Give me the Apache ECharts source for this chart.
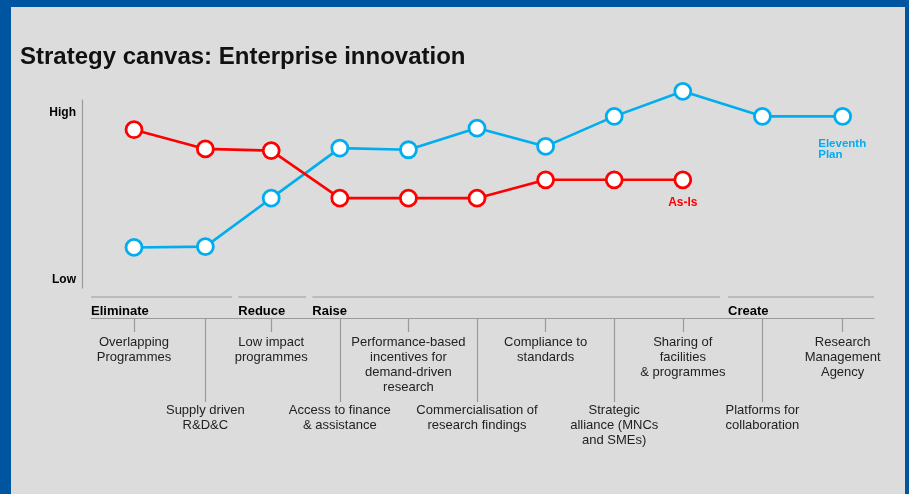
<!DOCTYPE html>
<html>
<head>
<meta charset="utf-8">
<script src="https://cdn.jsdelivr.net/npm/echarts@6/dist/echarts.min.js"></script>
<style>
  html, body { margin: 0; padding: 0; }
  body { width: 909px; height: 494px; background: #0055a0; overflow: hidden; }
  #panel { position: absolute; left: 11px; top: 7px; width: 894px; height: 487px; background: #dcdcdc; }
  #chart { position: absolute; left: 0; top: 0; width: 909px; height: 494px; }
</style>
</head>
<body>
<div id="panel"></div>
<div id="chart"></div>
<script>
// factors (x positions read from the canvas, in category units)
var categories = [
  "Overlapping\nProgrammes",
  "Supply driven\nR&D&C",
  "Low impact\nprogrammes",
  "Access to finance\n& assistance",
  "Performance-based\nincentives for\ndemand-driven\nresearch",
  "Commercialisation of\nresearch findings",
  "Compliance to\nstandards",
  "Strategic\nalliance (MNCs\nand SMEs)",
  "Sharing of\nfacilities\n& programmes",
  "Platforms for\ncollaboration",
  "Research\nManagement\nAgency"
];
var positions = [0, 1.04, 2, 3, 4, 5, 6, 7, 8, 9.16, 10.33];

// offering level, Low = 0, High = 10
var asIs = [9.0, 7.85, 7.75, 4.9, 4.9, 4.9, 6.0, 6.0, 6.0];
var eleventhPlan = [1.95, 2.0, 4.9, 7.9, 7.8, 9.1, 8.0, 9.8, 11.3, 9.8, 9.8];

// ERRC groups: name, start, end (category units)
var groupNames = ["Eliminate", "Reduce", "Raise", "Create"];
var groupStart = [-0.627, 1.52, 2.6, 8.66];
var groupEnd = [1.43, 2.51, 8.54, 10.787];

var yTicks = [0, 10];
var yTickNames = ["Low", "High"];

var FONT = "Liberation Sans, Arial, sans-serif";
var RED = "#ff0000";
var BLUE = "#00adef";
var GREY = "#9a9a9a";

function pairs(vals) {
  return vals.map(function (v, i) { return [positions[i], v]; });
}
function catLabel(v) {
  for (var i = 0; i < positions.length; i++) {
    if (Math.abs(positions[i] - v) < 0.01) return categories[i];
  }
  return "";
}
var upper = positions.filter(function (p, i) { return i % 2 === 0; });
var lower = positions.filter(function (p, i) { return i % 2 === 1; });

var chart = echarts.init(document.getElementById("chart"));

var option = {
  animation: false,
  title: {
    text: "Strategy canvas: Enterprise innovation",
    left: 20,
    top: 45,
    padding: 0,
    textStyle: { fontFamily: FONT, fontSize: 24, fontWeight: "bold", color: "#111" }
  },
  grid: { left: 91, right: 35, top: 100, bottom: 206 },
  xAxis: [
    {
      type: "value",
      min: -0.627,
      max: 10.787,
      position: "bottom",
      offset: 30,
      splitLine: { show: false },
      axisLine: { show: true, onZero: false, lineStyle: { color: GREY, width: 1.2 } },
      axisTick: { show: true, customValues: upper, length: 14, lineStyle: { color: GREY, width: 1.2 } },
      axisLabel: {
        customValues: upper,
        margin: 17,
        formatter: catLabel,
        fontFamily: FONT,
        fontSize: 13,
        lineHeight: 15,
        color: "#222",
        align: "center"
      }
    },
    {
      type: "value",
      min: -0.627,
      max: 10.787,
      position: "bottom",
      offset: 30,
      splitLine: { show: false },
      axisLine: { show: false, onZero: false },
      axisTick: { show: true, customValues: lower, length: 84, lineStyle: { color: GREY, width: 1.2 } },
      axisLabel: {
        customValues: lower,
        margin: 85,
        formatter: catLabel,
        fontFamily: FONT,
        fontSize: 13,
        lineHeight: 15,
        color: "#222",
        align: "center"
      }
    }
  ],
  yAxis: {
    type: "value",
    min: -0.48,
    max: 10.78,
    offset: 9,
    splitLine: { show: false },
    axisLine: { show: true, onZero: false, lineStyle: { color: GREY, width: 1.2 } },
    axisTick: { show: false },
    axisLabel: {
      customValues: yTicks,
      margin: 6,
      formatter: function (v) { return yTickNames[yTicks.indexOf(v)]; },
      fontFamily: FONT,
      fontSize: 12,
      fontWeight: "bold",
      color: "#000"
    }
  },
  series: [
    {
      name: "Eleventh Plan",
      type: "line",
      data: pairs(eleventhPlan),
      clip: false,
      z: 2,
      symbol: "circle",
      symbolSize: 16,
      lineStyle: { color: BLUE, width: 2.6 },
      itemStyle: { color: "#fff", borderColor: BLUE, borderWidth: 2.8 },
      label: {
        show: true,
        position: [-15, 31],
        formatter: function (p) {
          return p.dataIndex === eleventhPlan.length - 1 ? "Eleventh\nPlan" : "";
        },
        align: "left",
        verticalAlign: "top",
        fontFamily: FONT,
        fontSize: 11.5,
        lineHeight: 11,
        fontWeight: "bold",
        color: BLUE
      }
    },
    {
      name: "As-Is",
      type: "line",
      data: pairs(asIs),
      clip: false,
      z: 3,
      symbol: "circle",
      symbolSize: 16,
      lineStyle: { color: RED, width: 2.6 },
      itemStyle: { color: "#fff", borderColor: RED, borderWidth: 2.8 },
      label: {
        show: true,
        position: "bottom",
        distance: 7,
        formatter: function (p) {
          return p.dataIndex === asIs.length - 1 ? "As-Is" : "";
        },
        fontFamily: FONT,
        fontSize: 12,
        fontWeight: "bold",
        color: RED
      }
    },
    {
      // ERRC group brackets under the plot
      type: "custom",
      silent: true,
      data: groupNames.map(function (n, i) { return [groupStart[i], groupEnd[i], n]; }),
      encode: { x: [0, 1] },
      renderItem: function (params, api) {
        var cs = params.coordSys;
        var bottom = cs.y + cs.height;
        var a = api.coord([api.value(0), 0])[0];
        var b = api.coord([api.value(1), 0])[0];
        var y = bottom + 9;
        return {
          type: "group",
          children: [
            {
              type: "line",
              shape: { x1: a, y1: y, x2: b, y2: y },
              style: { stroke: GREY, lineWidth: 1.2 }
            },
            {
              type: "text",
              x: a,
              y: y + 14,
              style: {
                text: groupNames[params.dataIndex],
                fontFamily: FONT,
                fontSize: 13,
                fontWeight: "bold",
                fill: "#000",
                align: "left",
                verticalAlign: "middle"
              }
            }
          ]
        };
      }
    }
  ]
};

chart.setOption(option);
</script>
</body>
</html>
